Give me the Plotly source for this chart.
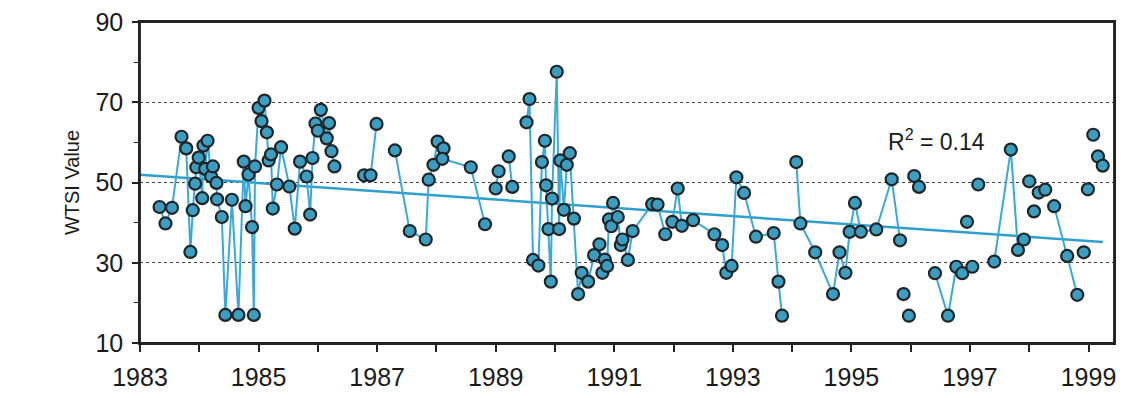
import numpy as np
import plotly.graph_objects as go

# Decimal years and WTSI values; None marks a break in the connecting line
years = [
    1983.33, 1983.43, 1983.54, 1983.70, 1983.78, 1983.85, 1983.89, 1983.93, 1983.95, 1983.99,
    1984.05, 1984.07, 1984.10, 1984.14, 1984.20, 1984.23, 1984.29, 1984.30, 1984.38, 1984.44,
    1984.55, 1984.66, 1984.75, 1984.78, 1984.83, 1984.89, 1984.92, 1984.94, 1985.00, 1985.05,
    1985.10, 1985.14, 1985.17, 1985.21, 1985.24, 1985.31, 1985.38, 1985.52, 1985.61, 1985.70,
    1985.81, 1985.87, 1985.91, 1985.96, 1986.00, 1986.05, 1986.15, 1986.19, 1986.23, 1986.28,
    None,
    1986.78, 1986.89, 1986.99,
    None,
    1987.30, 1987.55, 1987.82, 1987.87, 1987.95, 1988.02, 1988.12, 1988.10, 1988.58, 1988.82,
    None,
    1989.00, 1989.05,
    None,
    1989.22, 1989.28,
    None,
    1989.52, 1989.57, 1989.63, 1989.72, 1989.78, 1989.83, 1989.85, 1989.89, 1989.93, 1989.95,
    1990.03, 1990.07, 1990.09, 1990.15, 1990.20, 1990.25, 1990.32, 1990.39, 1990.45, 1990.56,
    1990.66, 1990.75, 1990.80, 1990.84, 1990.88, 1990.91, 1990.95, 1990.98, 1991.06, 1991.11,
    1991.14, 1991.23, 1991.31, 1991.64, 1991.73, 1991.86, 1991.98, 1992.07, 1992.14, 1992.33,
    1992.69, 1992.82, 1992.89, 1992.98, 1993.06, 1993.19, 1993.39, 1993.69, 1993.77, 1993.83,
    None,
    1994.07, 1994.14, 1994.39, 1994.69, 1994.80, 1994.90, 1994.97, 1995.06, 1995.16, 1995.42,
    1995.68, 1995.82,
    None, 1995.88, None, 1995.97, None, 1996.06, None, 1996.14, None,
    1996.41, 1996.63, 1996.77, 1996.87, 1997.04,
    None, 1996.95, None, 1997.14, None,
    1997.41, 1997.69, 1997.81, 1997.91,
    None, 1998.00, None, 1998.08, None, 1998.16, None, 1998.27, None,
    1998.42, 1998.64, 1998.81,
    None, 1998.92, None, 1998.99, None, 1999.08, None, 1999.16, None, 1999.24,
]
wtsi = [
    43.9, 39.8, 43.7, 61.4, 58.5, 32.7, 43.1, 49.7, 53.8, 56.2,
    46.1, 59.2, 53.4, 60.4, 51.5, 54.0, 49.9, 45.8, 41.4, 17.0,
    45.7, 17.0, 55.2, 44.1, 52.0, 38.9, 17.0, 54.0, 68.6, 65.3,
    70.4, 62.5, 55.5, 57.0, 43.5, 49.5, 58.8, 49.0, 38.5, 55.2,
    51.5, 42.0, 56.1, 64.7, 62.9, 68.1, 61.0, 64.8, 57.8, 54.0,
    None,
    51.8, 51.8, 64.6,
    None,
    58.0, 37.9, 35.8, 50.7, 54.4, 60.2, 58.5, 55.9, 53.8, 39.6,
    None,
    48.5, 52.8,
    None,
    56.5, 48.9,
    None,
    65.0, 70.8, 30.7, 29.3, 55.1, 60.4, 49.3, 38.4, 25.3, 46.0,
    77.6, 38.4, 55.5, 43.2, 54.4, 57.3, 41.0, 22.2, 27.5, 25.3,
    31.9, 34.6, 27.5, 30.8, 29.2, 40.8, 39.1, 44.9, 41.4, 34.4,
    35.8, 30.7, 37.9, 44.6, 44.5, 37.1, 40.2, 48.5, 39.2, 40.6,
    37.1, 34.4, 27.5, 29.2, 51.3, 47.4, 36.5, 37.4, 25.3, 16.8,
    None,
    55.1, 39.8, 32.6, 22.2, 32.6, 27.5, 37.7, 44.9, 37.7, 38.3,
    50.8, 35.6,
    None, 22.2, None, 16.8, None, 51.6, None, 48.9, None,
    27.4, 16.8, 29.0, 27.4, 29.0,
    None, 40.2, None, 49.5, None,
    30.3, 58.2, 33.2, 35.8,
    None, 50.3, None, 42.8, None, 47.5, None, 48.2, None,
    44.1, 31.7, 22.0,
    None, 32.6, None, 48.3, None, 61.9, None, 56.5, None, 54.2,
]

x_tick_years = list(range(1983, 2000, 2))
y_ticks = [10, 30, 50, 70, 90]
r2_label = "R<sup>2</sup> = 0.14"

# Linear trend fitted to the observations
pairs = [(x, y) for x, y in zip(years, wtsi) if x is not None and y is not None]
px_ = np.array([p[0] for p in pairs])
py_ = np.array([p[1] for p in pairs])
slope, intercept = np.polyfit(px_, py_, 1)
trend_x = np.array([1983.0, px_.max()])
trend_y = slope * trend_x + intercept

FONT = "Liberation Sans, Arial, sans-serif"
tick_font = dict(family=FONT, size=25, color="#1a1a1a")
title_font = dict(family=FONT, size=20, color="#1a1a1a")

fig = go.Figure()
fig.add_trace(go.Scatter(
    x=trend_x, y=trend_y, mode="lines",
    line=dict(color="#2f9fce", width=2.5), hoverinfo="skip", showlegend=False,
))
fig.add_trace(go.Scatter(
    x=years, y=wtsi, mode="lines+markers", connectgaps=False,
    line=dict(color="#3aa9d6", width=2),
    marker=dict(size=12, color="#3b9dbf", line=dict(color="#1d2529", width=2.2)),
    showlegend=False,
))

fig.add_annotation(
    x=1996.43, y=60.7, xref="x", yref="y", text=r2_label, showarrow=False,
    font=dict(family=FONT, size=23, color="#1a1a1a"),
)

# Frame around the plotting area
fig.add_shape(
    type="rect", xref="paper", yref="paper", x0=0, x1=1, y0=0, y1=1,
    line=dict(color="#222", width=1.8), fillcolor="rgba(0,0,0,0)", layer="above",
)

fig.update_layout(
    width=1110, height=382,
    margin=dict(l=132, r=4, t=14, b=47),
    paper_bgcolor="white", plot_bgcolor="white",
    font=tick_font,
)
fig.update_xaxes(
    range=[1983, 1999.43], tickmode="array", tickvals=x_tick_years,
    ticktext=[str(v) for v in x_tick_years],
    ticks="outside", ticklen=7, tickwidth=1.5, tickcolor="#222",
    minor=dict(dtick=1, tick0=1983, ticks="outside", ticklen=7, tickwidth=1.5, tickcolor="#222"),
    showline=True, linecolor="#222", linewidth=1.5, mirror=True,
    showgrid=False, zeroline=False, tickfont=tick_font, ticklabelstandoff=4,
    ticklabeloverflow="allow", automargin=False,
)
fig.update_yaxes(
    range=[10, 90], tickmode="array", tickvals=y_ticks,
    ticks="outside", ticklen=6, tickwidth=1.5, tickcolor="#222",
    minor=dict(dtick=10, tick0=10, ticks="outside", ticklen=4, tickwidth=1, tickcolor="#222", showgrid=False),
    showline=True, linecolor="#222", linewidth=1.5, mirror=True,
    showgrid=True, gridcolor="#444", griddash="dot", gridwidth=1,
    zeroline=False, tickfont=tick_font, ticklabelstandoff=4,
    ticklabeloverflow="allow",
    title=dict(text="WTSI Value", font=title_font, standoff=10),
    automargin=False,
)

fig.write_html("out.html")
